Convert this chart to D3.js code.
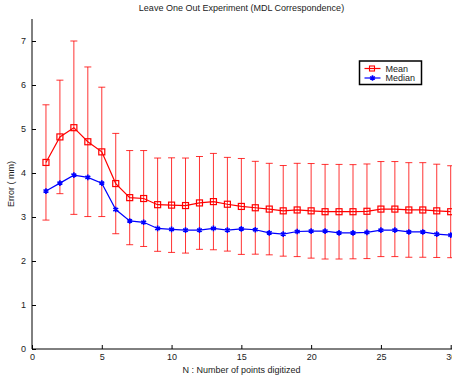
<!DOCTYPE html>
<html>
<head>
<meta charset="utf-8">
<script src="https://cdn.jsdelivr.net/npm/d3@7"></script>
<style>
  body { margin: 0; background: #fff; }
  svg { display: block; font-family: "Liberation Sans", Arial, Helvetica, sans-serif; }
</style>
</head>
<body>
<div id="chart"></div>
<script>
let width = 452, height = 377;
let margin = { left: 32, right: 1, top: 19, bottom: 28 };

let nPoints = d3.range(1, 31);
let meanErr = [4.24, 4.82, 5.03, 4.71, 4.48, 3.76, 3.44, 3.42, 3.28, 3.27,
               3.26, 3.32, 3.35, 3.29, 3.24, 3.21, 3.18, 3.14, 3.16, 3.14,
               3.12, 3.12, 3.12, 3.13, 3.18, 3.18, 3.16, 3.16, 3.14, 3.12];
let stdErr = [1.31, 1.29, 1.97, 1.70, 1.47, 1.14, 1.07, 1.09, 1.06, 1.075,
              1.08, 1.055, 1.095, 1.065, 1.09, 1.055, 1.04, 1.03, 1.06, 1.075,
              1.075, 1.075, 1.07, 1.075, 1.08, 1.08, 1.075, 1.075, 1.06, 1.045];
let medianErr = [3.59, 3.77, 3.95, 3.90, 3.77, 3.17, 2.91, 2.88, 2.74, 2.72,
                 2.70, 2.70, 2.74, 2.70, 2.73, 2.71, 2.64, 2.61, 2.67, 2.68,
                 2.68, 2.64, 2.64, 2.65, 2.70, 2.70, 2.66, 2.66, 2.61, 2.59];
let xTicks = [0, 5, 10, 15, 20, 25, 30];
let yTicks = [0, 1, 2, 3, 4, 5, 6, 7];
let seriesNames = ["Mean", "Median"];

let xScale = d3.scaleLinear().domain([0, 30]).range([margin.left, 450.7]);
let yScale = d3.scaleLinear().domain([0, 7.5]).range([height - margin.bottom, margin.top]);

let svg = d3.select("#chart").append("svg")
    .attr("width", width)
    .attr("height", height);

// axes (matlab style, ticks inward)
let xAxis = d3.axisBottom(xScale).tickValues(xTicks).tickSizeInner(-4).tickSizeOuter(0).tickPadding(6);
let yAxis = d3.axisLeft(yScale).tickValues(yTicks).tickSizeInner(-4).tickSizeOuter(0).tickPadding(6);

let gx = svg.append("g")
    .attr("transform", "translate(0," + yScale(0) + ")")
    .call(xAxis);
let gy = svg.append("g")
    .attr("transform", "translate(" + xScale(0) + ",0)")
    .call(yAxis);

gy.select(".domain").attr("d", "M0," + yScale(7.5) + "V" + yScale(0));
gx.select(".domain").attr("d", "M" + xScale(0) + ",0H" + width);
[gx, gy].forEach(g => {
    g.selectAll(".domain, .tick line").attr("stroke", "#000").attr("stroke-width", 1);
    g.selectAll(".tick text").attr("font-size", "9px").attr("fill", "#222");
});
gx.selectAll(".tick text").attr("dy", "0.55em");

// error bars
let capW = 3.5;
let bars = svg.append("g")
    .attr("stroke", "#ff0000")
    .attr("stroke-opacity", 0.8)
    .attr("stroke-width", 1)
    .attr("fill", "none");
nPoints.forEach((n, i) => {
    let x = xScale(n);
    let lo = yScale(meanErr[i] - stdErr[i]), hi = yScale(meanErr[i] + stdErr[i]);
    bars.append("path")
        .attr("d", "M" + x + "," + lo + "V" + hi +
                   "M" + (x - capW) + "," + hi + "H" + (x + capW) +
                   "M" + (x - capW) + "," + lo + "H" + (x + capW));
});

let line = d3.line().x((d, i) => xScale(nPoints[i])).y(d => yScale(d));

svg.append("path")
    .datum(meanErr)
    .attr("d", line)
    .attr("fill", "none")
    .attr("stroke", "#ff0000")
    .attr("stroke-width", 1.2);

svg.append("path")
    .datum(medianErr)
    .attr("d", line)
    .attr("fill", "none")
    .attr("stroke", "#0000ff")
    .attr("stroke-width", 1.2);

svg.append("g").selectAll("rect")
    .data(meanErr)
    .enter()
    .append("rect")
    .attr("x", (d, i) => xScale(nPoints[i]) - 3)
    .attr("y", d => yScale(d) - 3)
    .attr("width", 6)
    .attr("height", 6)
    .attr("fill", "none")
    .attr("stroke", "#ff0000")
    .attr("stroke-width", 1.2);

let star = d3.symbol().type(d3.symbolAsterisk).size(22);
svg.append("g").selectAll("path")
    .data(medianErr)
    .enter()
    .append("path")
    .attr("d", star)
    .attr("transform", (d, i) => "translate(" + xScale(nPoints[i]) + "," + yScale(d) + ")")
    .attr("fill", "none")
    .attr("stroke", "#0000ff")
    .attr("stroke-width", 1.6);

// titles
svg.append("text")
    .attr("x", 241.5).attr("y", 11)
    .attr("text-anchor", "middle")
    .attr("font-size", "9px")
    .attr("fill", "#222")
    .text("Leave One Out Experiment (MDL Correspondence)");

svg.append("text")
    .attr("x", 241.5).attr("y", 373)
    .attr("text-anchor", "middle")
    .attr("font-size", "9px")
    .attr("fill", "#222")
    .text("N : Number of points digitized");

svg.append("text")
    .attr("transform", "translate(14," + ((yScale(0) + yScale(7.5)) / 2) + ") rotate(-90)")
    .attr("text-anchor", "middle")
    .attr("font-size", "9px")
    .attr("fill", "#222")
    .text("Error ( mm)");

// legend
let lg = svg.append("g").attr("transform", "translate(359.5,61)");
lg.append("rect")
    .attr("width", 62).attr("height", 23.5)
    .attr("fill", "#fff")
    .attr("stroke", "#000")
    .attr("stroke-width", 1.5);
let legColors = ["#ff0000", "#0000ff"];
seriesNames.forEach((name, i) => {
    let ly = 7.5 + i * 9.5;
    lg.append("line")
        .attr("x1", 5).attr("x2", 21).attr("y1", ly).attr("y2", ly)
        .attr("stroke", legColors[i]).attr("stroke-width", 1.2);
    if (i === 0) {
        lg.append("rect").attr("x", 10).attr("y", ly - 2.5).attr("width", 5).attr("height", 5)
            .attr("fill", "none").attr("stroke", legColors[i]).attr("stroke-width", 1.1);
    } else {
        lg.append("path").attr("d", star).attr("transform", "translate(13," + ly + ")")
            .attr("fill", "none").attr("stroke", legColors[i]).attr("stroke-width", 1.6);
    }
    lg.append("text")
        .attr("x", 26).attr("y", ly + 3.2)
        .attr("font-size", "9px")
        .attr("fill", "#222")
        .text(name);
});
</script>
</body>
</html>
